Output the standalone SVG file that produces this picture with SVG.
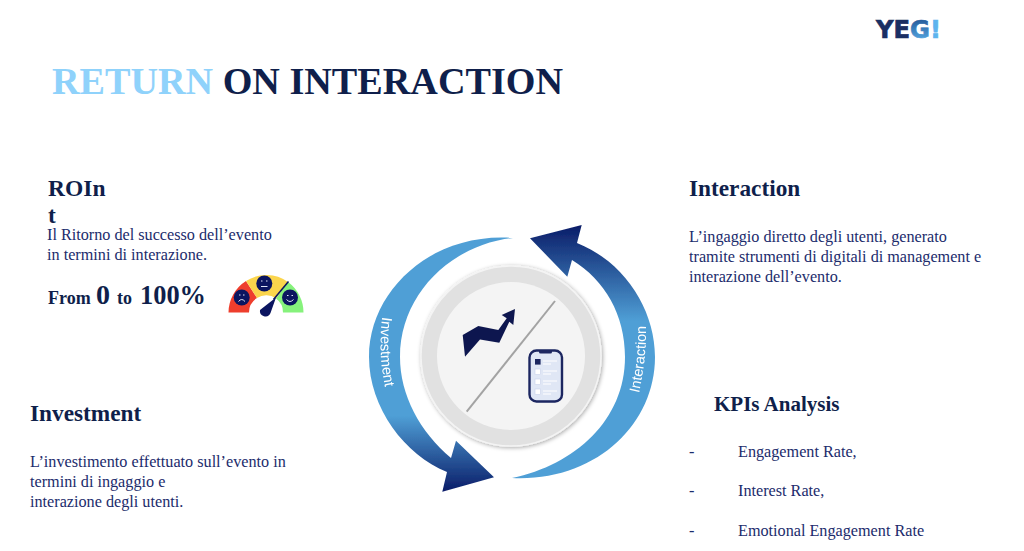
<svg xmlns="http://www.w3.org/2000/svg" width="1024" height="551" viewBox="0 0 1024 551">
<style>
text{font-family:"Liberation Serif","Times New Roman",serif}
.h{font-weight:700;fill:#0f1f4b}
.b{font-size:16.2px;fill:#1c2c6c}
.a{font-family:"Liberation Sans",Arial,sans-serif;font-size:14.5px;fill:#fff}
.face{fill:#0b1560}
.fl{stroke:#dfe3f5;stroke-width:1;fill:none}
.row{fill:#fff;stroke:#c7d0ea;stroke-width:.6}
.rl{stroke:#fff;stroke-width:1.2}
</style>
<defs>
<linearGradient id="gl" gradientUnits="userSpaceOnUse" x1="0" y1="238" x2="0" y2="492">
<stop offset="0" stop-color="#4f9fd6"/><stop offset=".7" stop-color="#4f9fd6"/><stop offset="1" stop-color="#0a1c68"/>
</linearGradient>
<linearGradient id="gr" gradientUnits="userSpaceOnUse" x1="0" y1="225" x2="0" y2="478">
<stop offset="0" stop-color="#0a1c68"/><stop offset=".38" stop-color="#4f9fd6"/><stop offset="1" stop-color="#4f9fd6"/>
</linearGradient>
<linearGradient id="gg" x1="0" y1="0" x2="0" y2="1"><stop offset="0" stop-color="#1f4f8f"/><stop offset="1" stop-color="#5db4ee"/></linearGradient>
<filter id="sh" x="-15%" y="-15%" width="130%" height="130%"><feDropShadow dx="1" dy="1" stdDeviation="2" flood-color="#000" flood-opacity=".35"/></filter>
<filter id="soft" x="-5%" y="-5%" width="110%" height="110%"><feGaussianBlur stdDeviation=".4"/></filter>
<path id="pl" d="M383,312 Q377,350 386,392"/>
<path id="pr" d="M638,397 Q647,360 646,322"/>
</defs>
<rect width="1024" height="551" fill="#fff"/>

<g id="logo"><text x="876" y="38" font-size="24" font-weight="700" stroke-width=".7" style="font-family:'DejaVu Sans',sans-serif" textLength="65" lengthAdjust="spacingAndGlyphs"><tspan fill="#1a2f63" stroke="#1a2f63">YE</tspan><tspan fill="url(#gg)" stroke="url(#gg)">G</tspan><tspan fill="#5db4ee" stroke="#5db4ee">!</tspan></text></g>

<g id="title"><text x="52" y="94" font-size="37" font-weight="700" fill="#0f1f4b" textLength="511" lengthAdjust="spacingAndGlyphs"><tspan fill="#8fd2fb">RETURN</tspan> ON INTERACTION</text></g>

<g id="roint">
<text class="h" x="48" y="196" font-size="23.500">ROIn</text>
<text class="h" x="48" y="223" font-size="23.500">t</text>
<text class="b" x="47" y="240">Il Ritorno del successo dell’evento</text>
<text class="b" x="47" y="260">in termini di interazione.</text>
<text class="h" x="48" y="304" font-size="18">From</text>
<text class="h" x="96" y="304" font-size="28">0</text>
<text class="h" x="117" y="304" font-size="18">to</text>
<text class="h" x="140" y="304" font-size="27" textLength="66" lengthAdjust="spacingAndGlyphs">100%</text>
</g>

<g id="gauge">
<path d="M228.500,312.500 A37.500,37.500 0 0 1 246,281 L257,298 A17,17 0 0 0 249,312.500Z" fill="#ee3e2d"/>
<path d="M246,281 A37.500,37.500 0 0 1 288,282 L276,298.500 A17,17 0 0 0 257,298Z" fill="#fbd54c"/>
<path d="M288,282 A37.500,37.500 0 0 1 303.500,312.500 L283,312.500 A17,17 0 0 0 276,298.500Z" fill="#86f27c"/>
<path d="M273.500,299.500 L288.500,281.500" stroke="#0b1560" stroke-width="1.600"/>
<circle class="face" cx="241.700" cy="297.500" r="8"/><circle class="face" cx="264.300" cy="283.500" r="8"/><circle class="face" cx="290" cy="297.500" r="8"/>
<path class="fl" d="M238.500,301.500 Q241.700,297.500 245,301.500 M239,295h1.500M243,295h1.500"/>
<path class="fl" d="M261,286.500h6.500M261,281h1.500M266,281h1.500"/>
<path class="fl" d="M286.500,299.500 Q290,303.500 293.500,299.500 M287,295.500h1.500M291.500,295.500h1.500"/>
<path d="M276,297.500 L270.500,313 A5.500,5.500 0 0 1 260,310 Z" fill="#0b1560"/>
</g>

<g id="interaction-text">
<text class="h" x="689" y="196" font-size="23.300">Interaction</text>
<text class="b" x="689" y="242">L’ingaggio diretto degli utenti, generato</text>
<text class="b" x="689" y="262">tramite strumenti di digitali di management e</text>
<text class="b" x="689" y="282">interazione dell’evento.</text>
</g>

<g id="investment-text">
<text class="h" x="30" y="421" font-size="23.300">Investment</text>
<text class="b" x="30" y="467">L’investimento effettuato sull’evento in</text>
<text class="b" x="30" y="487">termini di ingaggio e</text>
<text class="b" x="30" y="507">interazione degli utenti.</text>
</g>

<g id="kpis">
<text class="h" x="714" y="411" font-size="21">KPIs Analysis</text>
<text class="b" x="689" y="457">-</text><text class="b" x="738" y="457">Engagement Rate,</text>
<text class="b" x="689" y="496">-</text><text class="b" x="738" y="496">Interest Rate,</text>
<text class="b" x="689" y="536">-</text><text class="b" x="738" y="536">Emotional Engagement Rate</text>
</g>

<g id="connectors" filter="url(#soft)">
<path id="arrow-investment" fill="url(#gl)" d="M513,238 C432,232 369,290 369,357 C369,408 405,455 447,472 L442.300,491.700 L494,477.300 L456,440.700 L451,458 C420,432 400,395 400,357 C400,295 450,245 513,238Z"/>
<path id="arrow-interaction" fill="url(#gr)" d="M512,478 C595,482 655,425 655,357 C655,310 625,262 577,243 L581.700,225 L530,238.300 L567.300,276.700 L572,260 C605,280 625,315 625,357 C625,420 575,465 512,478Z"/>
<text class="a"><textPath href="#pl" startOffset="50%" text-anchor="middle">Investment</textPath></text>
<text class="a"><textPath href="#pr" startOffset="50%" text-anchor="middle">Interaction</textPath></text>
</g>

<g id="center" filter="url(#soft)">
<circle cx="511" cy="356" r="90" fill="#e1e1e1" stroke="#f4f4f4" stroke-width="1.500" filter="url(#sh)"/>
<circle cx="511" cy="356" r="74" fill="#f4f4f4"/>
<path d="M555,301 L466.700,411.700" stroke="#a3a3a3" stroke-width="2"/>
<path d="M462.700,335 L478.300,326 L498.300,330 L506.700,318.300 L501.700,315 L515,309 L513.300,325 L509.300,321.700 L499.300,342.700 L480,339.500 L465,356.700Z" fill="#10194f"/>
<rect x="529.500" y="350.500" width="32.500" height="51" rx="7" fill="#e0e7f5" stroke="#1a2560" stroke-width="2.400"/>
<path d="M539,351 h13 v1 a1.500,1.500 0 0 1 -1.500,1.500 h-10 a1.500,1.500 0 0 1 -1.500,-1.500z" fill="#1a2560"/>
<rect x="535" y="359" width="5.600" height="5.600" fill="#1a2560"/>
<rect class="row" x="535" y="369" width="5.600" height="5.600"/><rect class="row" x="535" y="379" width="5.600" height="5.600"/><rect class="row" x="535" y="389" width="5.600" height="5.600"/>
<path class="rl" d="M543,361h14M543,371h14M543,381h14M543,391h14M543,364h8M543,374h8M543,384h8M543,394h8"/>
</g>
</svg>
